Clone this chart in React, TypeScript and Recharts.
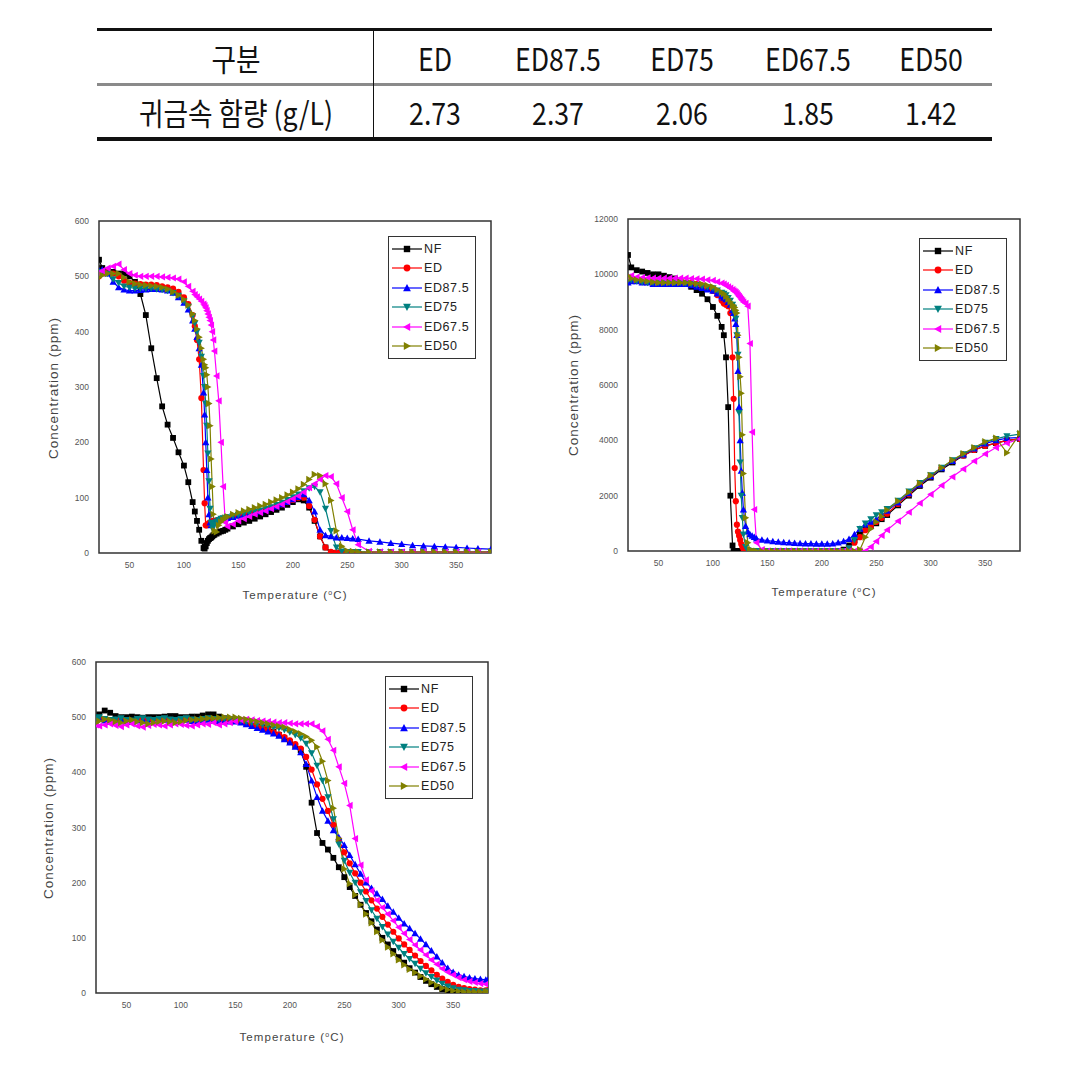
import React from 'react';
import { LineChart, Line, XAxis, YAxis, ReferenceArea, Legend } from 'recharts';

// table
const tableHead = ['구분', 'ED', 'ED87.5', 'ED75', 'ED67.5', 'ED50'];
const tableRow = ['귀금속 함량 (g/L)', '2.73', '2.37', '2.06', '1.85', '1.42'];

// temperature grid for the first two plots (°C)
const tempA = [
  22, 25, 30, 35, 40, 45, 50, 55, 60, 65,
  70, 75, 80, 85, 90, 95, 100, 104, 108, 110,
  112, 114, 116, 118, 119, 120, 121, 122, 123, 124,
  125, 126, 127, 128, 130, 132, 134, 136, 138, 140,
  145, 150, 155, 160, 165, 170, 175, 180, 185, 190,
  195, 200, 205, 210, 215, 220, 225, 230, 235, 240,
  245, 250, 255, 260, 270, 280, 290, 300, 310, 320,
  330, 340, 350, 360, 370, 382,
];

// plot 1 (ppm, 0-600)
const p1NF = [
  530, 515, 510, 508, 505, 505, 500, 490, 468, 430,
  370, 316, 265, 232, 208, 182, 158, 128, 92, 75,
  58, 42, 22, 9, 8, 12, 18, 22, 25, 27,
  28, 30, 32, 33, 35, 37, 39, 40, 42, 44,
  48, 52, 55, 58, 62, 66, 70, 74, 78, 82,
  87, 92, 97, 95, 82, 58, 30, 10, 0, 0,
  0, 0, 0, 0, 0, 0, 0, 0, 0, 0,
  0, 0, 0, 0, 0, 0,
];
const p1ED = [
  500, 505, 508, 505, 500, 492, 488, 487, 486, 485,
  485, 484, 482, 480, 478, 472, 462, 450, 430, 410,
  385, 350, 280, 150, 90, 50, 50, 52, 54, 55,
  56, 57, 58, 58, 59, 60, 61, 62, 63, 64,
  66, 68, 70, 72, 74, 76, 79, 82, 85, 88,
  92, 96, 100, 100, 85, 60, 30, 10, 2, 1,
  1, 1, 1, 1, 1, 1, 1, 1, 1, 1,
  1, 1, 1, 1, 1, 1,
];
const p1ED875 = [
  510, 512, 505, 490, 480, 476, 474, 474, 475, 476,
  477, 477, 476, 474, 470, 462, 452, 440, 420, 405,
  390, 370, 340, 290, 250, 200, 150, 100, 70, 55,
  50, 52, 55, 56, 58, 59, 60, 61, 62, 63,
  65, 67, 69, 71, 73, 75, 78, 81, 84, 88,
  92, 97, 101, 106, 95, 75, 42, 32, 30, 28,
  28, 27, 26, 25, 22, 20, 18, 16, 14, 13,
  12, 11, 10, 9, 8, 7,
];
const p1ED75 = [
  505, 508, 505, 495, 488, 482, 480, 478, 478, 478,
  478, 477, 476, 474, 470, 465, 455, 445, 428, 415,
  400, 380, 355, 320, 300, 270, 230, 180, 130, 80,
  55, 45, 48, 52, 57, 60, 62, 63, 64, 65,
  67, 69, 71, 73, 75, 77, 80, 83, 87, 91,
  96, 101, 106, 112, 117, 120, 110, 80, 40, 10,
  3, 2, 2, 2, 2, 2, 2, 2, 2, 2,
  2, 2, 2, 2, 2, 2,
];
const p1ED675 = [
  505, 510, 515, 518, 522, 512, 505, 502, 500, 500,
  500, 500, 499, 498, 497, 495, 490, 482, 473, 467,
  463, 459, 455, 450, 447, 443, 438, 432, 426, 420,
  412, 400, 385, 365, 320, 275, 200, 120, 55, 48,
  52, 58, 62, 66, 70, 73, 76, 80, 84, 88,
  93, 98, 103, 110, 118, 125, 133, 140, 138, 125,
  100, 75, 42, 15, 3, 2, 2, 2, 2, 2,
  2, 2, 2, 2, 2, 2,
];
const p1ED50 = [
  498, 502, 505, 505, 505, 498, 490, 487, 485, 484,
  483, 482, 480, 477, 472, 466, 458, 448, 432, 420,
  405, 390, 370, 350, 340, 335, 322, 300, 270, 230,
  170, 120, 70, 40, 38, 50, 56, 60, 63, 66,
  70, 73, 76, 79, 82, 85, 88, 92, 96, 100,
  105, 110, 116, 124, 133, 142, 140, 125, 95, 40,
  12, 4, 3, 2, 2, 2, 2, 2, 2, 2,
  2, 2, 2, 2, 2, 2,
];

// plot 2 (ppm, 0-12000)
const p2NF = [
  10700, 10250, 10150, 10100, 10050, 10000, 10000, 9950, 9900, 9850,
  9750, 9650, 9550, 9430, 9300, 9100, 8820, 8500, 8100, 7800,
  7000, 5200, 2000, 200, 0, 0, 0, 0, 0, 0,
  0, 0, 0, 0, 0, 0, 0, 0, 0, 0,
  0, 0, 0, 0, 0, 0, 0, 0, 0, 0,
  0, 0, 0, 0, 0, 50, 200, 400, 600, 800,
  900, 1000, 1150, 1300, 1650, 2000, 2350, 2650, 2950, 3200,
  3450, 3650, 3800, 3900, 4000, 4050,
];
const p2ED = [
  9800, 9850, 9800, 9750, 9720, 9720, 9720, 9720, 9720, 9720,
  9720, 9700, 9680, 9650, 9600, 9500, 9400, 9250, 9050, 8950,
  8900, 8850, 8600, 7000, 5500, 3000, 1800, 950, 700, 550,
  400, 250, 150, 80, 30, 10, 0, 0, 0, 0,
  0, 0, 0, 0, 0, 0, 0, 0, 0, 0,
  0, 0, 0, 0, 0, 0, 100, 300, 500, 750,
  900, 1050, 1200, 1350, 1700, 2050, 2400, 2700, 3000, 3250,
  3450, 3650, 3800, 3900, 4000, 4050,
];
const p2ED875 = [
  9700, 9750, 9750, 9700, 9700, 9650, 9650, 9650, 9650, 9650,
  9650, 9650, 9600, 9550, 9500, 9450, 9400, 9300, 9200, 9150,
  9100, 9000, 8900, 8700, 8600, 8400, 8200, 7800, 6500, 5200,
  4000, 2900, 2100, 1500, 900, 700, 600, 550, 500, 450,
  400, 380, 350, 330, 310, 300, 290, 280, 270, 270,
  260, 260, 260, 270, 300, 350, 430, 600, 800, 950,
  1050, 1150, 1300, 1450, 1750, 2080, 2400, 2700, 2990, 3250,
  3480, 3700, 3880, 4000, 4080, 4100,
];
const p2ED75 = [
  9800, 9800, 9750, 9720, 9700, 9700, 9700, 9700, 9700, 9700,
  9700, 9680, 9650, 9620, 9580, 9540, 9500, 9420, 9340, 9300,
  9250, 9150, 9050, 8900, 8800, 8600, 8400, 7800, 7100, 5000,
  3200, 2000, 1200, 600, 150, 30, 0, 0, 0, 0,
  0, 0, 0, 0, 0, 0, 0, 0, 0, 0,
  0, 0, 0, 0, 0, 0, 100, 400, 800, 1000,
  1150, 1300, 1400, 1520, 1820, 2150, 2460, 2740, 3010, 3280,
  3500, 3720, 3920, 4050, 4150, 4230,
];
const p2ED675 = [
  9900, 9950, 9900, 9880, 9870, 9860, 9860, 9860, 9860, 9860,
  9860, 9860, 9850, 9840, 9830, 9800, 9780, 9730, 9680, 9650,
  9600, 9550, 9500, 9450, 9400, 9380, 9350, 9300, 9250, 9200,
  9150, 9100, 9050, 9000, 8950, 8850, 7500, 4300, 1500, 300,
  50, 0, 0, 0, 0, 0, 0, 0, 0, 0,
  0, 0, 0, 0, 0, 0, 0, 0, 0, 0,
  150, 350, 560, 760, 1080, 1400, 1730, 2050, 2370, 2680,
  2960, 3250, 3510, 3740, 3900, 4050,
];
const p2ED50 = [
  9950, 9850, 9800, 9780, 9750, 9720, 9700, 9700, 9700, 9700,
  9700, 9700, 9680, 9660, 9650, 9600, 9550, 9450, 9350, 9300,
  9200, 9100, 9000, 8900, 8850, 8800, 8700, 8600, 7800, 7000,
  6300, 5700, 4200, 2800, 1200, 300, 50, 0, 0, 0,
  0, 0, 0, 0, 0, 0, 0, 0, 0, 0,
  0, 0, 0, 0, 0, 0, 0, 0, 50, 500,
  800, 1050, 1250, 1480, 1800, 2130, 2450, 2730, 3010, 3290,
  3520, 3740, 3950, 4080, 3550, 4250,
];

// temperature grid for the third plot (°C)
const tempC = [
  22, 25, 30, 35, 40, 45, 50, 55, 60, 65,
  70, 75, 80, 85, 90, 95, 100, 105, 110, 115,
  120, 125, 130, 135, 140, 145, 150, 155, 160, 165,
  170, 175, 180, 185, 190, 195, 200, 205, 210, 215,
  220, 225, 230, 235, 240, 245, 250, 255, 260, 265,
  270, 275, 280, 285, 290, 295, 300, 305, 310, 315,
  320, 325, 330, 335, 340, 345, 350, 355, 360, 365,
  370, 375, 380, 382,
];
const p3NF = [
  500, 505, 512, 508, 502, 500, 500, 501, 500, 499,
  500, 500, 500, 501, 502, 502, 500, 500, 501, 501,
  503, 505, 505, 501, 498, 496, 494, 492, 490, 488,
  485, 482, 478, 474, 468, 462, 455, 448, 440, 410,
  345, 290, 272, 260, 245, 228, 210, 192, 176, 160,
  145, 130, 115, 100, 88, 76, 65, 55, 45, 37,
  29, 22, 16, 11, 7, 4, 2, 1, 0, 0,
  0, 0, 0, 0,
];
const p3ED = [
  496, 498, 495, 494, 495, 497, 494, 493, 496, 497,
  495, 494, 496, 497, 495, 494, 496, 497, 495, 494,
  496, 497, 496, 495, 496, 495, 494, 492, 489, 486,
  483, 480, 477, 473, 469, 464, 458, 451, 443, 428,
  405, 378, 352, 330, 305, 278, 255, 235, 217, 200,
  184, 168, 153, 138, 124, 111, 99, 88, 78, 68,
  58, 49, 41, 33, 26, 20, 15, 11, 9, 7,
  6, 5, 5, 5,
];
const p3ED875 = [
  495, 497, 494, 492, 494, 496, 493, 491, 494, 495,
  493, 492, 494, 495, 493, 492, 494, 495, 493, 492,
  494, 495, 494, 493, 493, 492, 492, 490, 487, 484,
  480, 477, 474, 470, 466, 460, 454, 446, 436, 415,
  385, 355, 330, 312, 295, 282, 268, 250, 233, 216,
  200, 190, 180, 170, 158, 147, 136, 126, 117, 108,
  98, 88, 77, 66, 55, 45, 38, 33, 30, 28,
  26, 25, 24, 24,
];
const p3ED75 = [
  498, 500, 497, 495, 496, 498, 495, 494, 497, 498,
  496, 495, 497, 498, 496, 495, 497, 498, 496, 495,
  497, 498, 497, 496, 497, 497, 496, 494, 492, 490,
  488, 486, 484, 482, 480, 477, 473, 468, 462, 452,
  435, 412, 385, 355, 315, 270, 240, 218, 200, 183,
  167, 150, 135, 120, 106, 93, 82, 71, 62, 53,
  44, 36, 29, 23, 17, 12, 9, 6, 5, 4,
  4, 3, 3, 3,
];
const p3ED675 = [
  486, 484, 486, 488, 485, 483, 486, 488, 484, 482,
  485, 487, 486, 484, 486, 488, 487, 485, 484, 486,
  488, 487, 490, 486, 488, 490, 492, 495, 496, 495,
  494, 493, 492, 491, 490, 490, 489, 488, 488, 488,
  488, 483, 475, 460, 440, 410, 380, 340, 280, 232,
  205, 185, 168, 155, 143, 131, 119, 108, 97, 87,
  78, 69, 60, 52, 44, 38, 33, 28, 24, 21,
  19, 17, 16, 15,
];
const p3ED50 = [
  490, 493, 496, 495, 492, 490, 493, 495, 492, 490,
  488, 490, 492, 493, 492, 490, 492, 494, 495, 496,
  497, 498, 498, 499, 500, 500, 500, 498, 496, 494,
  492, 490, 488, 486, 484, 482, 478, 474, 470, 465,
  458, 446, 420, 385, 335, 280, 225, 198, 178, 160,
  143, 127, 111, 96, 83, 71, 60, 51, 43, 37,
  31, 25, 19, 14, 9, 6, 4, 3, 2, 2,
  2, 2, 2, 2,
];

const xTicks = [50, 100, 150, 200, 250, 300, 350];
const yTicksSmall = [0, 100, 200, 300, 400, 500, 600];
const yTicksLarge = [0, 2000, 4000, 6000, 8000, 10000, 12000];

type Shape = 'square' | 'circle' | 'up' | 'down' | 'left' | 'right';

const SERIES: { key: string; name: string; color: string; shape: Shape }[] = [
  { key: 'nf', name: 'NF', color: '#000000', shape: 'square' },
  { key: 'ed', name: 'ED', color: '#ff0000', shape: 'circle' },
  { key: 'ed875', name: 'ED87.5', color: '#0000ff', shape: 'up' },
  { key: 'ed75', name: 'ED75', color: '#008080', shape: 'down' },
  { key: 'ed675', name: 'ED67.5', color: '#ff00ff', shape: 'left' },
  { key: 'ed50', name: 'ED50', color: '#808000', shape: 'right' },
];

function buildRows(temps: number[], cols: number[][]) {
  return temps.map((t, i) => {
    const row: Record<string, number> = { t };
    SERIES.forEach((s, j) => {
      row[s.key] = cols[j][i];
    });
    return row;
  });
}

const rows1 = buildRows(tempA, [p1NF, p1ED, p1ED875, p1ED75, p1ED675, p1ED50]);
const rows2 = buildRows(tempA, [p2NF, p2ED, p2ED875, p2ED75, p2ED675, p2ED50]);
const rows3 = buildRows(tempC, [p3NF, p3ED, p3ED875, p3ED75, p3ED675, p3ED50]);

function Marker({ cx, cy, shape, color, s = 2.9 }: { cx: number; cy: number; shape: Shape; color: string; s?: number }) {
  const e = s + 0.7;
  switch (shape) {
    case 'square':
      return <rect x={cx - s} y={cy - s} width={2 * s} height={2 * s} fill={color} />;
    case 'circle':
      return <circle cx={cx} cy={cy} r={s + 0.2} fill={color} />;
    case 'up':
      return <polygon points={`${cx},${cy - e} ${cx - e},${cy + s} ${cx + e},${cy + s}`} fill={color} />;
    case 'down':
      return <polygon points={`${cx},${cy + e} ${cx - e},${cy - s} ${cx + e},${cy - s}`} fill={color} />;
    case 'left':
      return <polygon points={`${cx - e},${cy} ${cx + s},${cy - e} ${cx + s},${cy + e}`} fill={color} />;
    default:
      return <polygon points={`${cx + e},${cy} ${cx - s},${cy - e} ${cx - s},${cy + e}`} fill={color} />;
  }
}

const makeDot = (shape: Shape, color: string) => (p: any) => {
  if (p.cx == null || p.cy == null) return <g key={`${shape}-${p.index}`} />;
  return (
    <g key={`${shape}-${p.index}`}>
      <Marker cx={p.cx} cy={p.cy} shape={shape} color={color} />
    </g>
  );
};

function LegendBox() {
  return (
    <div
      style={{
        border: '1.5px solid #333',
        background: '#fff',
        padding: '2px 0 2px 3px',
        fontFamily: 'Arial, "Liberation Sans", sans-serif',
        fontSize: 12.5,
        color: '#222',
        letterSpacing: 0.6,
      }}
    >
      {SERIES.map((s) => (
        <div key={s.key} style={{ display: 'flex', alignItems: 'center', height: 19.5 }}>
          <svg width={30} height={12} style={{ marginRight: 2 }}>
            <line x1={0} y1={6} x2={30} y2={6} stroke={s.color} strokeWidth={1.2} />
            <Marker cx={15} cy={6} shape={s.shape} color={s.color} s={3.2} />
          </svg>
          <span>{s.name}</span>
        </div>
      ))}
    </div>
  );
}

const titleFont = 'Arial, "Liberation Sans", sans-serif';

interface PlotProps {
  left: number;
  top: number;
  rows: Record<string, number>[];
  yMax: number;
  yTicks: number[];
  yWidth: number;
  margin: { top: number; right: number; bottom: number; left: number };
  legend: { left: number; top: number };
  yTitle: { x: number; y: number };
  xTitle: { x: number; y: number };
}

function Plot({ left, top, rows, yMax, yTicks, yWidth, margin, legend, yTitle, xTitle }: PlotProps) {
  const tickStyle = { fontSize: 8.5, fill: '#555', fontFamily: titleFont };
  return (
    <div style={{ position: 'absolute', left, top, width: 480, height: 400 }}>
      <LineChart width={480} height={400} data={rows} margin={margin}>
        <XAxis
          type="number"
          dataKey="t"
          domain={[22, 382]}
          ticks={xTicks}
          allowDataOverflow
          axisLine={false}
          tickLine={false}
          tick={tickStyle}
          tickMargin={3}
          height={20}
        />
        <YAxis
          type="number"
          domain={[0, yMax]}
          ticks={yTicks}
          allowDataOverflow
          axisLine={false}
          tickLine={false}
          tick={tickStyle}
          tickMargin={4}
          width={yWidth}
        />
        {SERIES.map((s) => (
          <Line
            key={s.key}
            type="linear"
            dataKey={s.key}
            name={s.name}
            stroke={s.color}
            strokeWidth={1.2}
            dot={makeDot(s.shape, s.color)}
            activeDot={false}
            isAnimationActive={false}
          />
        ))}
        <ReferenceArea x1={22} x2={382} y1={0} y2={yMax} fill="none" fillOpacity={0} stroke="#333" strokeWidth={1.5} />
        <Legend
          layout="vertical"
          align="center"
          verticalAlign="middle"
          wrapperStyle={{ left: legend.left, top: legend.top, width: 88 }}
          content={() => <LegendBox />}
        />
      </LineChart>
      <div
        style={{
          position: 'absolute',
          left: yTitle.x,
          top: yTitle.y,
          transform: 'translate(-50%, -50%) rotate(-90deg)',
          whiteSpace: 'nowrap',
          fontFamily: titleFont,
          fontSize: 13.5,
          letterSpacing: 1,
          color: '#444',
        }}
      >
        Concentration (ppm)
      </div>
      <div
        style={{
          position: 'absolute',
          left: xTitle.x,
          top: xTitle.y,
          transform: 'translate(-50%, -50%)',
          whiteSpace: 'nowrap',
          fontFamily: titleFont,
          fontSize: 11.5,
          letterSpacing: 1.1,
          color: '#444',
        }}
      >
        Temperature (<sup style={{ fontSize: 7 }}>o</sup>C)
      </div>
    </div>
  );
}

const headCenters = [236, 435, 558, 682, 808, 931];

function Table() {
  const cell = (text: string, x: number, y: number, i: number) => (
    <div
      key={`${y}-${i}`}
      style={{
        position: 'absolute',
        left: x - 130,
        top: y - 22,
        width: 260,
        height: 44,
        lineHeight: '44px',
        textAlign: 'center',
        fontFamily: '"Noto Sans CJK KR", sans-serif',
        fontSize: 31,
        color: '#111',
        transform: 'scaleX(0.86)',
        whiteSpace: 'nowrap',
      }}
    >
      {text}
    </div>
  );
  return (
    <div style={{ position: 'absolute', left: 0, top: 0, width: 1078, height: 160 }}>
      <div style={{ position: 'absolute', left: 97, top: 28, width: 895, height: 3, background: '#111' }} />
      <div style={{ position: 'absolute', left: 97, top: 83, width: 895, height: 3, background: '#8a8a8a' }} />
      <div style={{ position: 'absolute', left: 97, top: 137, width: 895, height: 4, background: '#111' }} />
      <div style={{ position: 'absolute', left: 373, top: 29, width: 1, height: 111, background: '#111' }} />
      {tableHead.map((t, i) => cell(t, headCenters[i], 58, i))}
      {tableRow.map((t, i) => cell(t, headCenters[i], 112, i))}
    </div>
  );
}

export default function App() {
  return (
    <div style={{ position: 'absolute', left: 0, top: 0, width: 1078, height: 1079, background: '#fff' }}>
      <Table />
      <Plot
        left={40}
        top={205}
        rows={rows1}
        yMax={600}
        yTicks={yTicksSmall}
        yWidth={40}
        margin={{ top: 16, right: 29, bottom: 32, left: 19 }}
        legend={{ left: 348, top: 31 }}
        yTitle={{ x: 13, y: 183 }}
        xTitle={{ x: 255, y: 390 }}
      />
      <Plot
        left={560}
        top={205}
        rows={rows2}
        yMax={12000}
        yTicks={yTicksLarge}
        yWidth={45}
        margin={{ top: 14, right: 20, bottom: 34, left: 23 }}
        legend={{ left: 359, top: 33 }}
        yTitle={{ x: 13, y: 180 }}
        xTitle={{ x: 264, y: 387 }}
      />
      <Plot
        left={40}
        top={650}
        rows={rows3}
        yMax={600}
        yTicks={yTicksSmall}
        yWidth={40}
        margin={{ top: 12, right: 32, bottom: 37, left: 16 }}
        legend={{ left: 345, top: 26 }}
        yTitle={{ x: 8, y: 178 }}
        xTitle={{ x: 252, y: 387 }}
      />
    </div>
  );
}
